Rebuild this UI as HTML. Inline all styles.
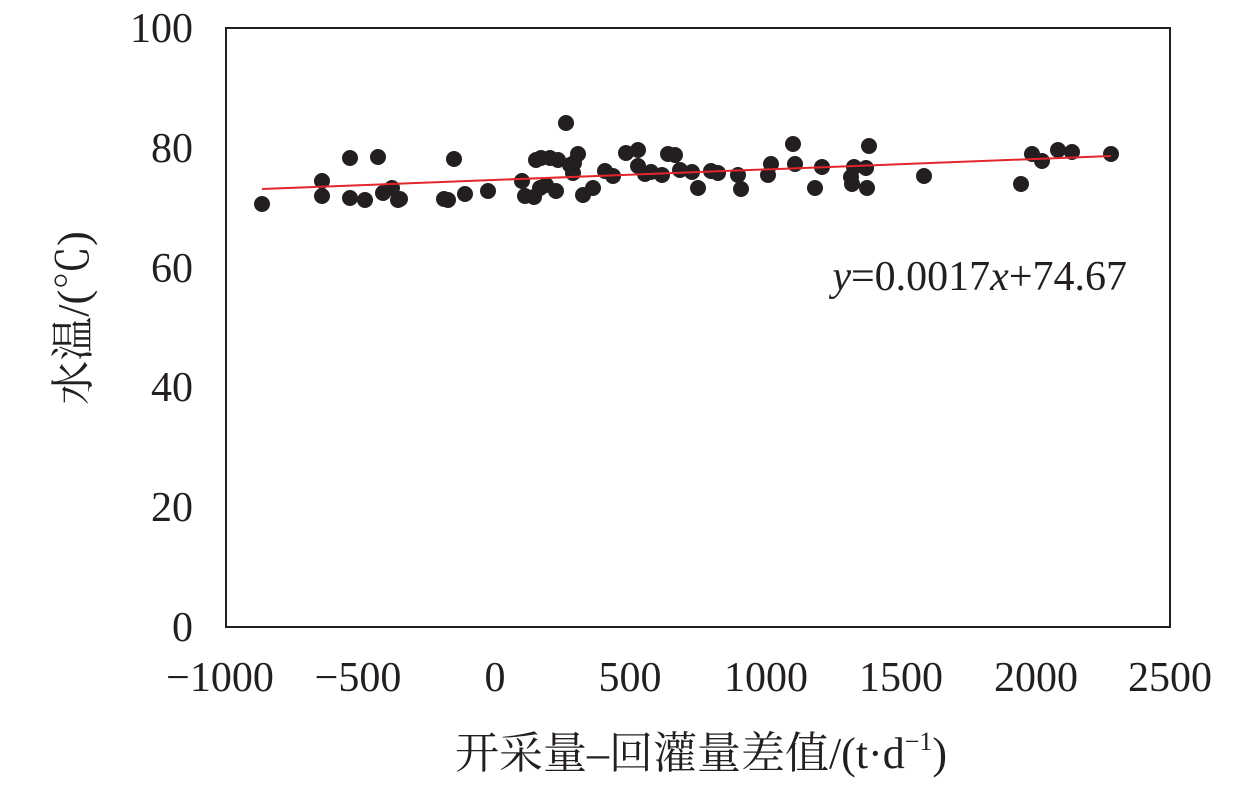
<!DOCTYPE html>
<html><head><meta charset="utf-8"><style>
html,body{margin:0;padding:0;background:#fff;}
svg text{font-family:"Liberation Serif","Noto Serif CJK SC",serif;fill:#231f20;}
</style></head><body>
<svg width="1259" height="787" viewBox="0 0 1259 787" xmlns="http://www.w3.org/2000/svg">
<rect x="226" y="28" width="944" height="599" fill="none" stroke="#231f20" stroke-width="2"/>
<g font-size="42" text-anchor="end">
<text x="193" y="641">0</text>
<text x="193" y="521">20</text>
<text x="193" y="401">40</text>
<text x="193" y="282">60</text>
<text x="193" y="162">80</text>
<text x="193" y="42">100</text>
</g>
<g font-size="42" text-anchor="middle">
<text x="220" y="691">−1000</text>
<text x="358" y="691">−500</text>
<text x="495" y="691">0</text>
<text x="630" y="691">500</text>
<text x="766" y="691">1000</text>
<text x="901" y="691">1500</text>
<text x="1036" y="691">2000</text>
<text x="1170" y="691">2500</text>
</g>
<text x="701" y="768" font-size="44" text-anchor="middle">开采量–回灌量差值/(t·d<tspan font-size="26" dy="-18">−1</tspan><tspan dy="18">)</tspan></text>
<text transform="translate(88,318) rotate(-90)" font-size="44" text-anchor="middle">水温/(℃)</text>
<text x="1127" y="290" font-size="42" text-anchor="end"><tspan font-style="italic">y</tspan>=0.0017<tspan font-style="italic">x</tspan>+74.67</text>
<g fill="#231f20">
<circle cx="262" cy="204" r="8"/><circle cx="322" cy="181" r="8"/><circle cx="322" cy="196" r="8"/><circle cx="350" cy="158" r="8"/><circle cx="350" cy="198" r="8"/><circle cx="365" cy="200" r="8"/><circle cx="378" cy="157" r="8"/><circle cx="383" cy="193" r="8"/><circle cx="392" cy="188" r="8"/><circle cx="398" cy="200" r="8"/><circle cx="400" cy="199" r="8"/><circle cx="444" cy="199" r="8"/><circle cx="448" cy="200" r="8"/><circle cx="454" cy="159" r="8"/><circle cx="465" cy="194" r="8"/><circle cx="488" cy="191" r="8"/><circle cx="522" cy="181" r="8"/><circle cx="525" cy="196" r="8"/><circle cx="534" cy="197" r="8"/><circle cx="536" cy="160" r="8"/><circle cx="541" cy="158" r="8"/><circle cx="550" cy="158" r="8"/><circle cx="558" cy="160" r="8"/><circle cx="556" cy="191" r="8"/><circle cx="546" cy="185" r="8"/><circle cx="540" cy="188" r="8"/><circle cx="566" cy="123" r="8"/><circle cx="570" cy="165" r="8"/><circle cx="574" cy="163" r="8"/><circle cx="578" cy="154" r="8"/><circle cx="573" cy="173" r="8"/><circle cx="583" cy="195" r="8"/><circle cx="593" cy="188" r="8"/><circle cx="605" cy="171" r="8"/><circle cx="613" cy="176" r="8"/><circle cx="626" cy="153" r="8"/><circle cx="638" cy="150" r="8"/><circle cx="638" cy="166" r="8"/><circle cx="645" cy="174" r="8"/><circle cx="651" cy="172" r="8"/><circle cx="662" cy="175" r="8"/><circle cx="668" cy="154" r="8"/><circle cx="675" cy="155" r="8"/><circle cx="680" cy="170" r="8"/><circle cx="692" cy="172" r="8"/><circle cx="698" cy="188" r="8"/><circle cx="711" cy="171" r="8"/><circle cx="718" cy="173" r="8"/><circle cx="738" cy="175" r="8"/><circle cx="741" cy="189" r="8"/><circle cx="768" cy="175" r="8"/><circle cx="771" cy="164" r="8"/><circle cx="793" cy="144" r="8"/><circle cx="795" cy="164" r="8"/><circle cx="815" cy="188" r="8"/><circle cx="822" cy="167" r="8"/><circle cx="851" cy="177" r="8"/><circle cx="852" cy="184" r="8"/><circle cx="854" cy="167" r="8"/><circle cx="866" cy="168" r="8"/><circle cx="867" cy="188" r="8"/><circle cx="869" cy="146" r="8"/><circle cx="924" cy="176" r="8"/><circle cx="1021" cy="184" r="8"/><circle cx="1032" cy="154" r="8"/><circle cx="1042" cy="161" r="8"/><circle cx="1058" cy="150" r="8"/><circle cx="1072" cy="152" r="8"/><circle cx="1111" cy="154" r="8"/>
</g>
<line x1="262" y1="189" x2="1111" y2="156" stroke="#e3262b" stroke-width="2"/>
</svg>
</body></html>
